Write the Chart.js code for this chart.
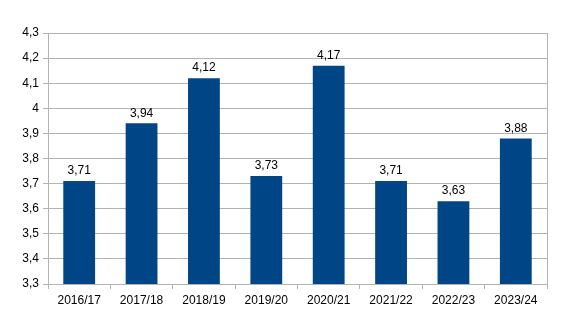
<!DOCTYPE html>
<html><head><meta charset="utf-8">
<script src="https://cdn.jsdelivr.net/npm/chart.js@4"></script>
<style>html,body{margin:0;padding:0;background:#fff}#w{width:565px;height:325px}</style>
</head><body><div id="w"><canvas id="c"></canvas></div>
<script>
const categories = ["2016/17","2017/18","2018/19","2019/20","2020/21","2021/22","2022/23","2023/24"];
const values = [3.71,3.94,4.12,3.73,4.17,3.71,3.63,3.88];
const yMin = 3.3, yMax = 4.3, yStep = 0.1;

const fmt = v => String(Math.round(v*100)/100).replace('.', ',');

const labelPlugin = {
  id: 'vals',
  afterDatasetsDraw(chart) {
    const ctx = chart.ctx;
    const meta = chart.getDatasetMeta(0);
    ctx.save();
    ctx.font = '12px "Liberation Sans", Arial, sans-serif';
    ctx.fillStyle = '#000';
    ctx.textAlign = 'center';
    ctx.textBaseline = 'bottom';
    meta.data.forEach((el, i) => {
      ctx.fillText(fmt(values[i]), el.x, el.y - 4);
    });
    ctx.restore();
  }
};

const borderPlugin = {
  id: 'rb',
  afterDraw(chart) {
    const a = chart.chartArea, ctx = chart.ctx;
    ctx.save();
    ctx.strokeStyle = '#b3b3b3';
    ctx.lineWidth = 1;
    ctx.beginPath();
    ctx.moveTo(Math.round(a.right)+0.5, a.top);
    ctx.lineTo(Math.round(a.right)+0.5, a.bottom);
    ctx.stroke();
    ctx.restore();
  }
};

new Chart(document.getElementById('c'), {
  type: 'bar',
  data: {
    labels: categories,
    datasets: [{ data: values, backgroundColor: '#004586', barPercentage: 0.51, categoryPercentage: 1.0 }]
  },
  options: {
    responsive: true, maintainAspectRatio: false, animation: false,
    layout: { padding: { top: 33, right: 18, left: 0, bottom: 0 } },
    plugins: { legend: { display: false }, tooltip: { enabled: false } },
    scales: {
      x: {
        grid: { drawOnChartArea: false, drawTicks: true, tickLength: 5, color: '#b3b3b3', offset: true },
        border: { color: '#b3b3b3' },
        ticks: { color: '#000', padding: 4, font: { family: '"Liberation Sans", Arial, sans-serif', size: 12 }, maxRotation: 0 },
        afterFit(s) { s.height = 41; }
      },
      y: {
        min: yMin, max: yMax,
        grid: { color: '#b3b3b3', tickLength: 5 },
        border: { color: '#b3b3b3' },
        ticks: { stepSize: yStep, color: '#000', padding: 4, font: { family: '"Liberation Sans", Arial, sans-serif', size: 12 }, callback: v => fmt(Math.round(v*10)/10) },
        afterFit(s) { s.width = 48; }
      }
    }
  },
  plugins: [labelPlugin, borderPlugin]
});
</script></body></html>
